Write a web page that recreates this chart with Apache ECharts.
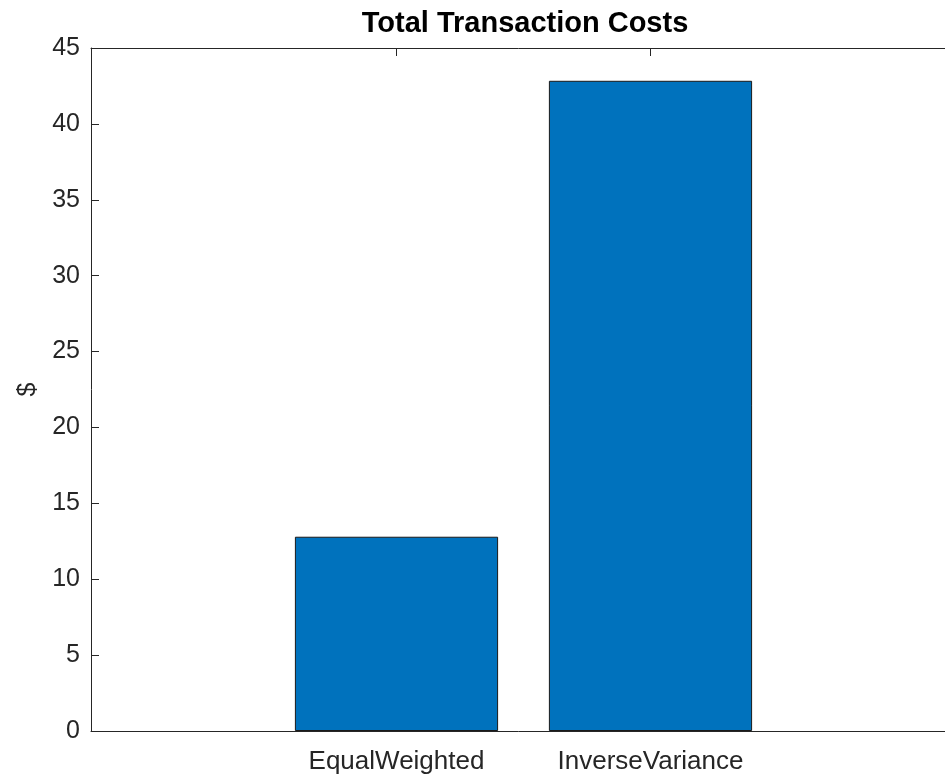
<!DOCTYPE html>
<html>
<head>
<meta charset="utf-8">
<script src="https://cdn.jsdelivr.net/npm/echarts@6/dist/echarts.min.js"></script>
<style>
html,body{margin:0;padding:0;background:#fff;}
#chart{width:945px;height:778px;}
</style>
</head>
<body>
<div id="chart"></div>
<script>
var categories = ['EqualWeighted', 'InverseVariance'];
var costs = [12.8, 42.84];
var yMin = 0, yMax = 45, yStep = 5;
var titleText = 'Total Transaction Costs';
var yName = '$';

var FONT = '"Liberation Sans", Arial, Helvetica, sans-serif';
var AX = '#262626';
var lineOnly = {
  axisLine: {show: true, onZero: false, lineStyle: {color: AX, width: 1}},
  axisTick: {show: false}, axisLabel: {show: false}, splitLine: {show: false}
};
var chart = echarts.init(document.getElementById('chart'), null, {renderer: 'canvas'});
chart.setOption({
  animation: false,
  backgroundColor: '#ffffff',
  title: {
    text: titleText,
    left: 520, top: 4, textAlign: 'center',
    textStyle: {fontFamily: FONT, fontSize: 29, fontWeight: 'bold', color: '#000'}
  },
  grid: [
    {left: 91, top: 48, bottom: 47, width: 864, show: false, outerBoundsMode: 'none', containLabel: false},
    {left: 269.5, top: 48, bottom: 47, width: 508, show: false, outerBoundsMode: 'none', containLabel: false}
  ],
  xAxis: [
    Object.assign({gridIndex: 0, type: 'value', min: 0, max: 1, position: 'bottom'}, lineOnly),
    Object.assign({gridIndex: 0, type: 'value', min: 0, max: 1, position: 'top'}, lineOnly),
    {gridIndex: 1, type: 'category', data: categories, position: 'bottom',
     axisLine: {show: false},
     axisTick: {show: true, inside: true, alignWithLabel: true, length: 8, lineStyle: {color: AX, width: 1}},
     axisLabel: {fontFamily: FONT, fontSize: 26, color: AX, margin: 18}},
    {gridIndex: 1, type: 'category', data: categories, position: 'top',
     axisLine: {show: false},
     axisTick: {show: true, inside: true, alignWithLabel: true, length: 8, lineStyle: {color: AX, width: 1}},
     axisLabel: {show: false}}
  ],
  yAxis: [
    {gridIndex: 0, type: 'value', min: yMin, max: yMax, interval: yStep,
     name: yName, nameLocation: 'middle', nameGap: 50, nameRotate: 90,
     nameTextStyle: {fontFamily: FONT, fontSize: 25, color: AX},
     axisLine: {show: true, onZero: false, lineStyle: {color: AX, width: 1}},
     axisTick: {show: true, inside: true, length: 8, lineStyle: {color: AX, width: 1}},
     axisLabel: {fontFamily: FONT, fontSize: 25, color: AX, margin: 11, padding: [5, 0, 0, 0]},
     splitLine: {show: false}},
    {gridIndex: 1, type: 'value', min: yMin, max: yMax, show: false, splitLine: {show: false}}
  ],
  series: [{
    type: 'bar',
    xAxisIndex: 2, yAxisIndex: 1,
    data: costs,
    barWidth: '80%',
    itemStyle: {color: '#0072BD', borderColor: '#1a1a1a', borderWidth: 1}
  }]
});
</script>
</body>
</html>
